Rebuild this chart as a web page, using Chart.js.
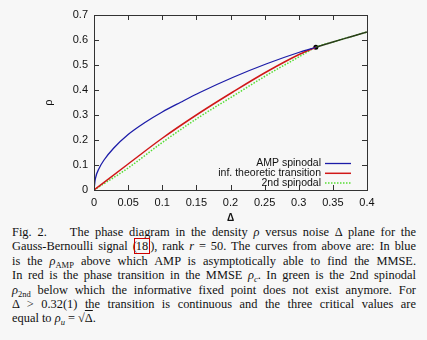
<!DOCTYPE html>
<html>
<head>
<meta charset="utf-8">
<script src="https://cdn.jsdelivr.net/npm/chart.js@4"></script>
<style>
  body { margin: 0; background: #f7f7f7; width: 427px; height: 340px; overflow: hidden; position: relative; }
  #phaseChart { position: absolute; left: 0; top: 0; }
  .caption { position: absolute; left: 12px; top: 225px; width: 404px;
             font-family: "Liberation Serif", serif; font-size: 12.4px; line-height: 14.4px; color: #111; }
  .caption div { text-align: justify; text-align-last: justify; white-space: nowrap; }
  .caption div.last { text-align-last: left; }
  .cite { border: 1.3px solid #c00; padding: 0 1px; margin-left: -3px; }
  .ov { text-decoration: overline; }
  sub { font-size: 8.5px; line-height: 0; }
</style>
</head>
<body>
<canvas id="phaseChart" width="427" height="224"></canvas>
<div class="caption">
  <div>Fig. 2.&nbsp;&nbsp;&nbsp; The phase diagram in the density <i>ρ</i> versus noise Δ plane for the</div>
  <div>Gauss-Bernoulli signal (<span class="cite">18</span>), rank <i>r</i> = 50. The curves from above are: In blue</div>
  <div>is the <i>ρ</i><sub>AMP</sub> above which AMP is asymptotically able to find the MMSE.</div>
  <div>In red is the phase transition in the MMSE <i>ρ<sub>c</sub></i>. In green is the 2nd spinodal</div>
  <div><i>ρ</i><sub>2nd</sub> below which the informative fixed point does not exist anymore. For</div>
  <div>Δ &gt; 0.32(1) the transition is continuous and the three critical values are</div>
  <div class="last">equal to <i>ρ<sub>u</sub></i> = √<span class="ov">Δ</span>.</div>
</div>
<script>
// noise Δ and density ρ along each critical line
const deltaAmp = [0, 0.002, 0.0074, 0.0147, 0.029, 0.05, 0.0735, 0.1, 0.127, 0.155, 0.204, 0.253, 0.302, 0.325];
const rhoAmp   = [0, 0.045, 0.086, 0.12, 0.168, 0.222, 0.268, 0.312, 0.351, 0.39, 0.451, 0.505, 0.552, 0.571];

const deltaInf = [0, 0.05, 0.1, 0.155, 0.204, 0.253, 0.302, 0.325];
const rhoInf   = [0, 0.104, 0.207, 0.309, 0.393, 0.473, 0.544, 0.571];

const delta2nd = [0, 0.05, 0.1, 0.155, 0.204, 0.253, 0.302, 0.325, 0.35, 0.375, 0.4];
const rho2nd   = [0, 0.088, 0.19, 0.293, 0.376, 0.459, 0.535, 0.571, 0.592, 0.612, 0.632];

// continuous regime, ρu = √Δ
const deltaCont = [0.325, 0.35, 0.375, 0.4];
const rhoCont   = [0.571, 0.592, 0.612, 0.632];

const triPoint = [0.325, 0.571];

const xTicks = [0, 0.05, 0.1, 0.15, 0.2, 0.25, 0.3, 0.35, 0.4];
const xTickLabels = ['0', '0.05', '0.1', '0.15', '0.2', '0.25', '0.3', '0.35', '0.4'];
const yTicks = [0, 0.1, 0.2, 0.3, 0.4, 0.5, 0.6, 0.7];
const yTickLabels = ['0', '0.1', '0.2', '0.3', '0.4', '0.5', '0.6', '0.7'];

const toPoints = (xs, ys) => xs.map((x, i) => ({ x: x, y: ys[i] }));

const FONT = 'Liberation Sans, Arial, sans-serif';

// gnuplot-like frame with ticks pointing inward on all four sides
const framePlugin = {
  id: 'frame',
  afterDatasetsDraw(chart) {
    const { ctx, chartArea: a, scales: { x, y } } = chart;
    ctx.save();
    ctx.strokeStyle = '#333';
    ctx.lineWidth = 1;
    ctx.beginPath();
    xTicks.forEach(v => {
      const px = Math.round(x.getPixelForValue(v)) + 0.5;
      ctx.moveTo(px, a.bottom); ctx.lineTo(px, a.bottom - 5);
      ctx.moveTo(px, a.top); ctx.lineTo(px, a.top + 5);
    });
    yTicks.forEach(v => {
      const py = Math.round(y.getPixelForValue(v)) + 0.5;
      ctx.moveTo(a.left, py); ctx.lineTo(a.left + 5, py);
      ctx.moveTo(a.right, py); ctx.lineTo(a.right - 5, py);
    });
    ctx.stroke();
    ctx.strokeRect(Math.round(a.left) + 0.5, Math.round(a.top) + 0.5,
                   Math.round(a.right - a.left), Math.round(a.bottom - a.top));
    ctx.restore();
  }
};

// legend in the lower right corner: label first, line sample after it
const keyPlugin = {
  id: 'key',
  afterDatasetsDraw(chart) {
    const { ctx } = chart;
    const rows = chart.data.datasets.filter(d => d.inKey);
    ctx.save();
    ctx.font = '10.5px ' + FONT;
    ctx.textAlign = 'right';
    ctx.textBaseline = 'middle';
    rows.forEach((d, i) => {
      const yy = 163.5 + i * 9.8;
      ctx.fillStyle = '#111';
      ctx.fillText(d.label, 321, yy);
      ctx.strokeStyle = d.borderColor;
      ctx.lineWidth = d.borderWidth;
      ctx.setLineDash(d.borderDash || []);
      ctx.beginPath();
      ctx.moveTo(325, yy); ctx.lineTo(351, yy);
      ctx.stroke();
    });
    ctx.restore();
  }
};

new Chart(document.getElementById('phaseChart'), {
  type: 'line',
  data: {
    datasets: [
      {
        label: 'AMP spinodal', inKey: true,
        data: toPoints(deltaAmp, rhoAmp),
        borderColor: '#1c1ca8', borderWidth: 1.3,
        pointRadius: 0, cubicInterpolationMode: 'monotone'
      },
      {
        label: 'inf. theoretic transition', inKey: true,
        data: toPoints(deltaInf, rhoInf),
        borderColor: '#d01818', borderWidth: 1.5,
        pointRadius: 0, cubicInterpolationMode: 'monotone'
      },
      {
        label: 'continuous',
        data: toPoints(deltaCont, rhoCont),
        borderColor: '#2a3a1a', borderWidth: 1.4,
        pointRadius: 0, cubicInterpolationMode: 'monotone'
      },
      {
        label: '2nd spinodal', inKey: true,
        data: toPoints(delta2nd, rho2nd),
        borderColor: '#55dd33', borderWidth: 1.5, borderDash: [1.5, 1.5],
        pointRadius: 0, cubicInterpolationMode: 'monotone'
      },
      {
        label: 'tricritical',
        data: [{ x: triPoint[0], y: triPoint[1] }],
        showLine: false,
        pointRadius: 2.5, pointBackgroundColor: '#000', pointBorderWidth: 0
      }
    ]
  },
  options: {
    responsive: false,
    devicePixelRatio: 1,
    animation: false,
    layout: { padding: { left: 42, top: 15, right: 60, bottom: 0 } },
    plugins: { legend: { display: false }, tooltip: { enabled: false } },
    scales: {
      x: {
        type: 'linear', min: 0, max: 0.4,
        afterFit: s => { s.height = 34; },
        afterBuildTicks: s => { s.ticks = xTicks.map(v => ({ value: v })); },
        grid: { display: false, drawTicks: false },
        border: { display: false },
        ticks: {
          padding: 6, color: '#111', maxRotation: 0, autoSkip: false,
          font: { family: FONT, size: 11 },
          callback: (v) => xTickLabels[xTicks.indexOf(v)]
        },
        title: { display: true, text: 'Δ', color: '#111', padding: 0,
                 font: { family: FONT, size: 10, weight: 'bold' } }
      },
      y: {
        type: 'linear', min: 0, max: 0.7,
        afterFit: s => { s.width = 52; },
        afterBuildTicks: s => { s.ticks = yTicks.map(v => ({ value: v })); },
        grid: { display: false, drawTicks: false },
        border: { display: false },
        ticks: {
          padding: 6, color: '#111', autoSkip: false,
          font: { family: FONT, size: 11 },
          callback: (v) => yTickLabels[yTicks.indexOf(v)]
        },
        title: { display: true, text: 'ρ', color: '#111', padding: 0,
                 font: { family: FONT, size: 11 } }
      }
    }
  },
  plugins: [framePlugin, keyPlugin]
});
</script>
</body>
</html>
